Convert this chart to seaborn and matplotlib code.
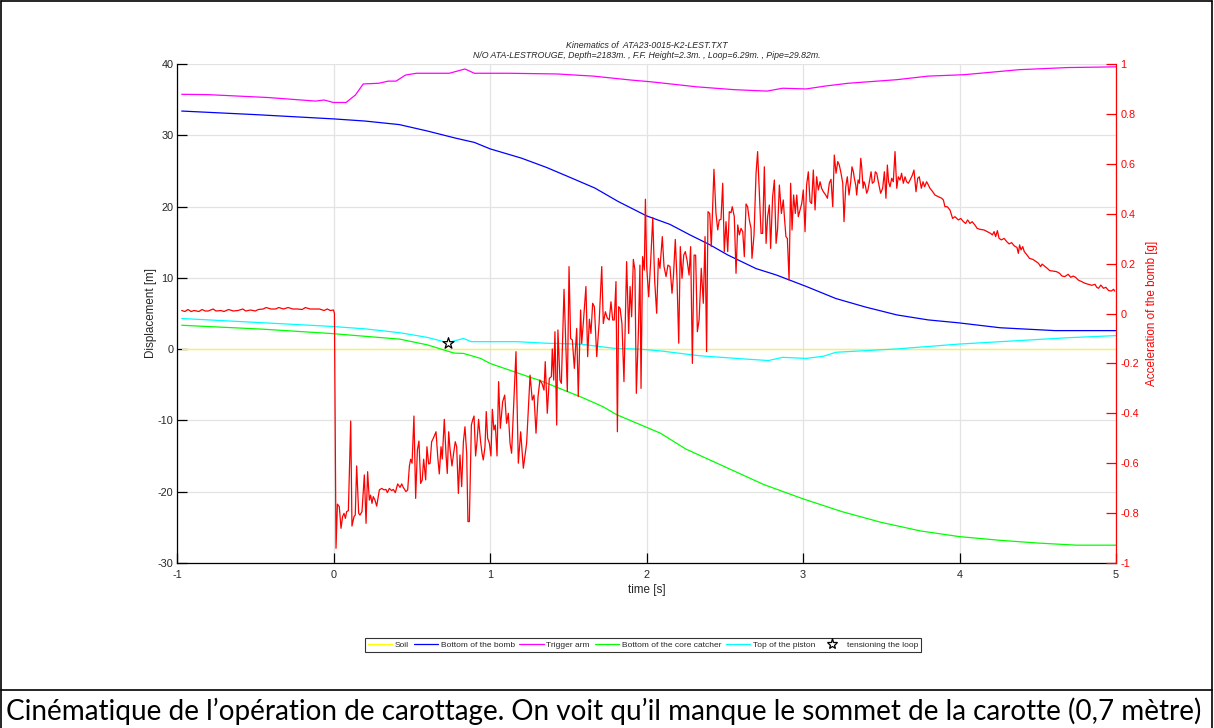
import numpy as np
import pandas as pd
import matplotlib
matplotlib.use("Agg")
import matplotlib.pyplot as plt
import seaborn as sns
from matplotlib.lines import Line2D

# ---------------- data ----------------
title_lines = ["Kinematics of  ATA23-0015-K2-LEST.TXT",
               "N/O ATA-LESTROUGE, Depth=2183m. , F.F. Height=2.3m. , Loop=6.29m. , Pipe=29.82m."]
caption = "Cinématique de l\u2019opération de carottage. On voit qu\u2019il manque le sommet de la carotte (0,7 mètre)"

soil_t = [-0.97, 5.0]
soil_v = [0.0, 0.0]

bomb_t = [-0.97, -0.5, 0.0, 0.2, 0.42, 0.6, 0.78, 0.9, 1.0, 1.2, 1.36, 1.5, 1.67, 1.82, 2.0, 2.15,
          2.28, 2.4, 2.52, 2.7, 2.83, 3.02, 3.21, 3.4, 3.6, 3.8, 3.99, 4.26, 4.61, 5.0]
bomb_v = [33.4, 32.9, 32.3, 32.0, 31.5, 30.6, 29.6, 29.0, 28.1, 26.8, 25.5, 24.2, 22.6, 20.7, 18.7, 17.5,
          16.0, 14.7, 13.2, 11.3, 10.4, 8.8, 7.1, 5.9, 4.8, 4.1, 3.7, 3.0, 2.6, 2.6]

trig_t = [-0.97, -0.8, -0.42, -0.115, -0.06, 0.0, 0.08, 0.14, 0.19, 0.29, 0.35, 0.4, 0.46, 0.53, 0.74,
          0.84, 0.9, 1.12, 1.43, 1.66, 1.9, 2.03, 2.32, 2.56, 2.77, 2.87, 3.02, 3.14, 3.29, 3.6, 3.8,
          4.03, 4.38, 4.69, 5.0]
trig_v = [35.75, 35.7, 35.3, 34.8, 34.95, 34.6, 34.6, 35.65, 37.2, 37.3, 37.6, 37.6, 38.45, 38.7, 38.7,
          39.3, 38.7, 38.7, 38.6, 38.3, 37.75, 37.5, 36.8, 36.4, 36.2, 36.6, 36.5, 36.9, 37.3, 37.8, 38.3,
          38.5, 39.2, 39.5, 39.6]

catcher_t = [-0.97, -0.45, -0.02, 0.425, 0.6, 0.77, 0.83, 0.94, 1.0, 1.25, 1.32, 1.58, 1.72, 1.81, 2.09,
             2.25, 2.5, 2.75, 3.0, 3.25, 3.5, 3.75, 4.0, 4.25, 4.5, 4.75, 5.0]
catcher_v = [3.35, 2.8, 2.2, 1.4, 0.6, -0.55, -0.6, -1.3, -2.0, -3.9, -4.4, -6.7, -8.05, -9.2, -11.8,
             -14.0, -16.5, -19.0, -21.0, -22.8, -24.3, -25.5, -26.3, -26.8, -27.2, -27.5, -27.5]

piston_t = [-0.97, -0.45, -0.02, 0.2, 0.425, 0.6, 0.73, 0.83, 0.88, 1.17, 1.36, 1.58, 1.79, 1.96, 2.09,
            2.34, 2.64, 2.78, 2.87, 3.02, 3.13, 3.21, 3.6, 3.99, 4.38, 4.69, 5.0]
piston_v = [4.3, 3.7, 3.2, 2.85, 2.3, 1.65, 0.9, 1.5, 1.05, 1.05, 0.83, 0.7, 0.12, 0.0, -0.25,
            -0.93, -1.4, -1.6, -1.15, -1.3, -1.0, -0.44, 0.03, 0.7, 1.2, 1.6, 1.9]

star_t = [0.73]
star_v = [0.85]

# acceleration of the bomb [g] (time, value)
acc_pre = [(-0.97, 0.012), (-0.95, 0.008), (-0.93, 0.016), (-0.91, 0.008), (-0.89, 0.012), (-0.86, 0.008),
           (-0.84, 0.016), (-0.82, 0.010), (-0.80, 0.010), (-0.77, 0.018), (-0.75, 0.010), (-0.72, 0.012),
           (-0.70, 0.008), (-0.67, 0.016), (-0.64, 0.010), (-0.61, 0.012), (-0.58, 0.018), (-0.56, 0.010),
           (-0.53, 0.014), (-0.50, 0.010), (-0.48, 0.016), (-0.45, 0.018), (-0.43, 0.024), (-0.40, 0.018),
           (-0.37, 0.018), (-0.35, 0.024), (-0.32, 0.018), (-0.29, 0.024), (-0.26, 0.018), (-0.23, 0.018),
           (-0.20, 0.016), (-0.18, 0.024), (-0.15, 0.018), (-0.12, 0.018), (-0.09, 0.018), (-0.06, 0.012),
           (-0.04, 0.018), (-0.02, 0.012), (0.000, 0.014), (0.006, 0.0)]
acc_impact = [(0.016, -0.941), (0.025, -0.764), (0.037, -0.774), (0.048, -0.861), (0.058, -0.814), (0.067, -0.801),
              (0.076, -0.821), (0.084, -0.794), (0.095, -0.790), (0.110, -0.431), (0.118, -0.852), (0.131, -0.814),
              (0.139, -0.808), (0.148, -0.611), (0.161, -0.801), (0.169, -0.808), (0.182, -0.794), (0.197, -0.647),
              (0.208, -0.841), (0.218, -0.634), (0.229, -0.748), (0.237, -0.728), (0.246, -0.761), (0.254, -0.734),
              (0.265, -0.748), (0.276, -0.772), (0.293, -0.707), (0.308, -0.701), (0.323, -0.707), (0.335, -0.705),
              (0.344, -0.718), (0.357, -0.701), (0.372, -0.710), (0.382, -0.705), (0.395, -0.718), (0.410, -0.683),
              (0.425, -0.697), (0.436, -0.683), (0.446, -0.697), (0.463, -0.714), (0.474, -0.707), (0.485, -0.611),
              (0.493, -0.584), (0.502, -0.600), (0.514, -0.411), (0.525, -0.741), (0.536, -0.547), (0.546, -0.511),
              (0.557, -0.681), (0.567, -0.667), (0.576, -0.584), (0.589, -0.667), (0.597, -0.534), (0.608, -0.603),
              (0.617, -0.601), (0.627, -0.514), (0.638, -0.500), (0.655, -0.474), (0.666, -0.574), (0.676, -0.643),
              (0.687, -0.534), (0.695, -0.583), (0.708, -0.424), (0.719, -0.567), (0.727, -0.641), (0.736, -0.474),
              (0.744, -0.540), (0.757, -0.611), (0.768, -0.558), (0.778, -0.514), (0.787, -0.534), (0.798, -0.721),
              (0.808, -0.567), (0.819, -0.694), (0.830, -0.514), (0.840, -0.454), (0.851, -0.560), (0.859, -0.834),
              (0.868, -0.834), (0.881, -0.447), (0.889, -0.427), (0.898, -0.411), (0.908, -0.571), (0.917, -0.514),
              (0.927, -0.424), (0.940, -0.514), (0.949, -0.560), (0.957, -0.587), (0.968, -0.534), (0.976, -0.393),
              (0.985, -0.500), (0.996, -0.520), (1.006, -0.571), (1.015, -0.384), (1.025, -0.467), (1.034, -0.447),
              (1.045, -0.571), (1.055, -0.273), (1.066, -0.460), (1.081, -0.353), (1.094, -0.327), (1.106, -0.440),
              (1.117, -0.400), (1.128, -0.520)]
acc_mid = [(1.138, -0.56), (1.166, -0.153), (1.181, -0.60), (1.196, -0.474), (1.213, -0.62), (1.234, -0.52),
           (1.256, -0.247), (1.270, -0.347), (1.281, -0.327), (1.294, -0.480), (1.307, -0.333), (1.319, -0.267),
           (1.332, -0.280), (1.345, -0.307), (1.353, -0.193), (1.366, -0.400), (1.379, -0.260), (1.392, -0.253),
           (1.398, -0.142), (1.407, -0.267), (1.415, -0.073), (1.426, -0.447), (1.434, -0.066), (1.447, -0.267),
           (1.456, -0.280), (1.473, 0.097), (1.494, -0.313), (1.505, 0.188), (1.515, -0.100), (1.526, -0.106),
           (1.539, -0.220), (1.554, -0.060), (1.564, -0.333), (1.579, 0.014), (1.586, -0.120), (1.596, -0.040),
           (1.613, 0.108), (1.624, -0.173), (1.635, -0.023), (1.645, -0.080), (1.656, 0.041), (1.667, 0.027),
           (1.682, -0.173), (1.697, -0.040), (1.714, 0.188), (1.724, -0.040), (1.737, 0.007), (1.750, -0.019),
           (1.762, -0.026), (1.773, 0.047), (1.784, -0.026), (1.794, -0.026), (1.805, 0.128), (1.814, -0.474),
           (1.822, 0.027), (1.831, 0.021), (1.843, -0.040), (1.856, -0.273), (1.873, 0.208), (1.886, -0.080),
           (1.895, 0.108), (1.905, -0.013), (1.916, 0.217), (1.926, 0.174), (1.935, -0.320), (1.948, -0.080),
           (1.958, 0.194), (1.965, -0.300), (1.975, 0.228), (1.986, 0.174)]
acc_pen = [(1.993, 0.458), (2.001, 0.188), (2.014, 0.067), (2.027, 0.214), (2.040, 0.385), (2.052, 0.134),
           (2.065, 0.001), (2.076, 0.221), (2.086, 0.181), (2.101, 0.308), (2.112, 0.188), (2.125, 0.148),
           (2.137, 0.194), (2.150, 0.188), (2.163, 0.081), (2.172, 0.148), (2.184, 0.297), (2.195, 0.134),
           (2.206, -0.119), (2.216, 0.268), (2.227, 0.141), (2.238, 0.234), (2.248, 0.248), (2.259, 0.214),
           (2.272, 0.154), (2.282, 0.268), (2.293, -0.200), (2.304, 0.234), (2.314, 0.234), (2.325, -0.073),
           (2.336, -0.026), (2.350, 0.181), (2.363, 0.041), (2.374, 0.308), (2.384, -0.153), (2.393, 0.408),
           (2.404, 0.401), (2.414, 0.268), (2.431, 0.578), (2.444, 0.401), (2.455, 0.335), (2.465, 0.375),
           (2.476, 0.377), (2.487, 0.522), (2.497, 0.248), (2.508, 0.368), (2.519, 0.248), (2.529, 0.408),
           (2.540, 0.404), (2.548, 0.428), (2.561, 0.388), (2.572, 0.161), (2.583, 0.355), (2.593, 0.315),
           (2.604, 0.341), (2.615, 0.328), (2.625, 0.228), (2.636, 0.439), (2.646, 0.428), (2.657, 0.375),
           (2.668, 0.341), (2.674, 0.221), (2.687, 0.315), (2.700, 0.562), (2.710, 0.649), (2.721, 0.482),
           (2.732, 0.321), (2.742, 0.321), (2.753, 0.588), (2.764, 0.281), (2.774, 0.388), (2.785, 0.435),
           (2.793, 0.261), (2.806, 0.468), (2.817, 0.535), (2.828, 0.281), (2.838, 0.341), (2.849, 0.515),
           (2.862, 0.401), (2.874, 0.455), (2.881, 0.388), (2.891, 0.308), (2.900, 0.301), (2.911, 0.134),
           (2.921, 0.522), (2.930, 0.335), (2.940, 0.475), (2.951, 0.401), (2.960, 0.475), (2.970, 0.388),
           (2.981, 0.415), (2.992, 0.441), (3.002, 0.495), (3.013, 0.328), (3.023, 0.515), (3.034, 0.568),
           (3.045, 0.448), (3.055, 0.441), (3.066, 0.575), (3.077, 0.415), (3.087, 0.548), (3.098, 0.495),
           (3.109, 0.528)]
acc_peak = [(3.119, 0.502), (3.130, 0.488), (3.145, 0.475), (3.156, 0.462), (3.168, 0.522), (3.179, 0.538),
            (3.190, 0.428), (3.200, 0.635), (3.211, 0.562), (3.222, 0.609), (3.232, 0.595), (3.243, 0.562),
            (3.254, 0.522), (3.262, 0.368), (3.273, 0.508), (3.283, 0.548), (3.294, 0.475), (3.305, 0.528),
            (3.313, 0.588), (3.322, 0.568), (3.328, 0.542), (3.337, 0.515), (3.343, 0.475), (3.352, 0.535),
            (3.360, 0.522), (3.369, 0.622), (3.375, 0.588), (3.384, 0.502), (3.390, 0.528), (3.398, 0.515),
            (3.407, 0.482), (3.415, 0.495), (3.424, 0.528), (3.435, 0.568), (3.443, 0.522), (3.454, 0.528),
            (3.462, 0.568), (3.471, 0.562), (3.479, 0.535), (3.488, 0.508), (3.496, 0.482), (3.509, 0.502),
            (3.520, 0.568), (3.530, 0.462), (3.539, 0.595), (3.547, 0.528), (3.556, 0.508), (3.567, 0.542),
            (3.577, 0.528), (3.588, 0.649), (3.599, 0.502), (3.609, 0.548), (3.620, 0.535), (3.630, 0.562),
            (3.641, 0.522), (3.652, 0.548), (3.662, 0.528), (3.673, 0.522), (3.684, 0.535), (3.699, 0.555),
            (3.709, 0.575), (3.722, 0.488), (3.733, 0.542), (3.743, 0.548), (3.756, 0.502), (3.767, 0.528),
            (3.777, 0.508), (3.790, 0.528), (3.801, 0.515), (3.811, 0.502), (3.829, 0.488), (3.843, 0.475),
            (3.865, 0.468), (3.886, 0.462), (3.897, 0.455), (3.907, 0.428), (3.922, 0.428), (3.939, 0.415),
            (3.956, 0.381), (3.971, 0.388), (3.993, 0.375), (4.008, 0.381), (4.025, 0.368), (4.039, 0.361),
            (4.052, 0.375), (4.067, 0.361)]
acc_tail = [(4.081, 0.368), (4.098, 0.355), (4.113, 0.341), (4.134, 0.337), (4.156, 0.335), (4.178, 0.328),
            (4.199, 0.321), (4.210, 0.315), (4.221, 0.328), (4.231, 0.308), (4.242, 0.332), (4.253, 0.301),
            (4.268, 0.295), (4.285, 0.301), (4.302, 0.288), (4.317, 0.279), (4.333, 0.284), (4.350, 0.271),
            (4.367, 0.265), (4.376, 0.241), (4.384, 0.275), (4.393, 0.255), (4.404, 0.268), (4.414, 0.248),
            (4.432, 0.234), (4.447, 0.221), (4.468, 0.217), (4.490, 0.208), (4.505, 0.201), (4.518, 0.188),
            (4.528, 0.198), (4.543, 0.190), (4.561, 0.181), (4.576, 0.172), (4.597, 0.170), (4.619, 0.168),
            (4.640, 0.161), (4.655, 0.150), (4.673, 0.148), (4.694, 0.157), (4.711, 0.145), (4.726, 0.150),
            (4.742, 0.145), (4.759, 0.134), (4.780, 0.128), (4.802, 0.121), (4.823, 0.117), (4.845, 0.113),
            (4.866, 0.117), (4.877, 0.105), (4.888, 0.101), (4.903, 0.114), (4.920, 0.101), (4.935, 0.105),
            (4.953, 0.092), (4.970, 0.090), (4.985, 0.097), (4.991, 0.090)]

x_ticks = [-1, 0, 1, 2, 3, 4, 5]
y_ticks = [-30, -20, -10, 0, 10, 20, 30, 40]
y2_ticks = [-1, -0.8, -0.6, -0.4, -0.2, 0, 0.2, 0.4, 0.6, 0.8, 1]
y2_labels = ["-1", "-0.8", "-0.6", "-0.4", "-0.2", "0", "0.2", "0.4", "0.6", "0.8", "1"]

# ---------------- style ----------------
sns.set_theme(style="white")
plt.rcParams['font.family'] = ['Liberation Sans', 'DejaVu Sans']

fig = plt.figure(figsize=(12.14, 7.28), dpi=100)
ax = fig.add_axes([177 / 1214, 1 - 563 / 728, (1116 - 177) / 1214, (563 - 64) / 728])
ax2 = ax.twinx()

LW = 0.9
series = [
    ("Soil", soil_t, soil_v, "#ffff00"),
    ("Bottom of the bomb", bomb_t, bomb_v, "#0000ff"),
    ("Trigger arm", trig_t, trig_v, "#ff00ff"),
    ("Bottom of the core catcher", catcher_t, catcher_v, "#00ff00"),
    ("Top of the piston", piston_t, piston_v, "#00ffff"),
]
handles = []
for name, tt, vv, col in series:
    df = pd.DataFrame({"t": tt, "v": vv})
    sns.lineplot(data=df, x="t", y="v", ax=ax, color=col, lw=LW, estimator=None, sort=False)
    handles.append(Line2D([], [], color=col, lw=LW, label=name))

sns.scatterplot(x=star_t, y=star_v, ax=ax, marker="*", s=70, color="white",
                edgecolor="black", linewidth=0.9, zorder=6)
handles.append(Line2D([], [], ls="none", marker="*", markersize=8, markerfacecolor="white",
                      markeredgecolor="black", markeredgewidth=0.9, label="tensioning the loop"))

acc = acc_pre + acc_impact + acc_mid + acc_pen + acc_peak + acc_tail
acc_df = pd.DataFrame(acc, columns=["t", "g"])
sns.lineplot(data=acc_df, x="t", y="g", ax=ax2, color="#ff0000", lw=LW, estimator=None, sort=False)

# axes
ax.set_xlim(-1, 5)
ax.set_ylim(-30, 40)
ax2.set_ylim(-1, 1)
ax.set_xticks(x_ticks)
ax.set_xticklabels([str(v) for v in x_ticks])
ax.set_yticks(y_ticks)
ax.set_yticklabels([str(v) for v in y_ticks])
ax2.set_yticks(y2_ticks)
ax2.set_yticklabels(y2_labels)

ax.grid(True, color="#e3e3e3", lw=0.9)
ax.set_axisbelow(True)
for s in ["top", "right"]:
    ax.spines[s].set_visible(False)
for s in ["left", "bottom"]:
    ax.spines[s].set_color("black")
    ax.spines[s].set_linewidth(0.9)
for s in ["top", "left", "bottom"]:
    ax2.spines[s].set_visible(False)
ax2.spines["right"].set_color("#ff0000")
ax2.spines["right"].set_linewidth(0.9)

ax.tick_params(axis="both", direction="in", length=7, width=0.9, colors="black",
               labelsize=7.8, labelcolor="#262626")
ax.tick_params(axis="x", bottom=True, top=False, pad=5)
ax.tick_params(axis="y", left=True, right=False, pad=2.5)
ax2.tick_params(axis="y", direction="in", length=7, width=0.9, colors="#ff0000",
                labelsize=7.8, pad=3, right=True)

ax.set_xlabel("time [s]", fontsize=8.4, color="#262626")
ax.set_ylabel("Displacement [m]", fontsize=8.4, color="#262626")
ax2.set_ylabel("Acceleration of the bomb [g]", fontsize=8.4, color="#ff0000")
ax.xaxis.set_label_coords(0.5, (563 - 590) / 499, transform=ax.transAxes)
ax.yaxis.set_label_coords((151 - 177) / 939, 0.5, transform=ax.transAxes)
ax2.yaxis.set_label_coords((1152 - 177) / 939, 0.5, transform=ax2.transAxes)
ax.xaxis.label.set_va("center")
ax.yaxis.label.set_va("center")
ax2.yaxis.label.set_va("center")

ax.set_title(title_lines[0] + "\n" + title_lines[1], fontsize=6.3, style="italic",
             color="#262626", pad=4, linespacing=1.25)

leg = fig.legend(handles=handles, loc="center", bbox_to_anchor=(643 / 1214, 1 - 645 / 728),
                 ncol=6, fontsize=6, frameon=True, fancybox=False, edgecolor="black",
                 handlelength=2.9, handletextpad=0.35, columnspacing=0.55, borderpad=0.35)
leg.get_frame().set_linewidth(0.8)

# document frame and caption
def fline(x0, y0, x1, y1):
    fig.add_artist(Line2D([x0 / 1214, x1 / 1214], [1 - y0 / 728, 1 - y1 / 728],
                          transform=fig.transFigure, color="black", lw=1.2))

fline(1, 1, 1212, 1)
fline(1, 1, 1, 728)
fline(1212, 1, 1212, 728)
fline(1, 690, 1212, 690)

cap = fig.text(6 / 1214, 1 - 711 / 728, caption, fontsize=16, family=["Lato", "DejaVu Sans"],
               ha="left", va="center", color="black")
fig.canvas.draw()
w = cap.get_window_extent().width
cap.set_fontsize(16 * 1198 / w)

fig.savefig("out.png", dpi=100)
